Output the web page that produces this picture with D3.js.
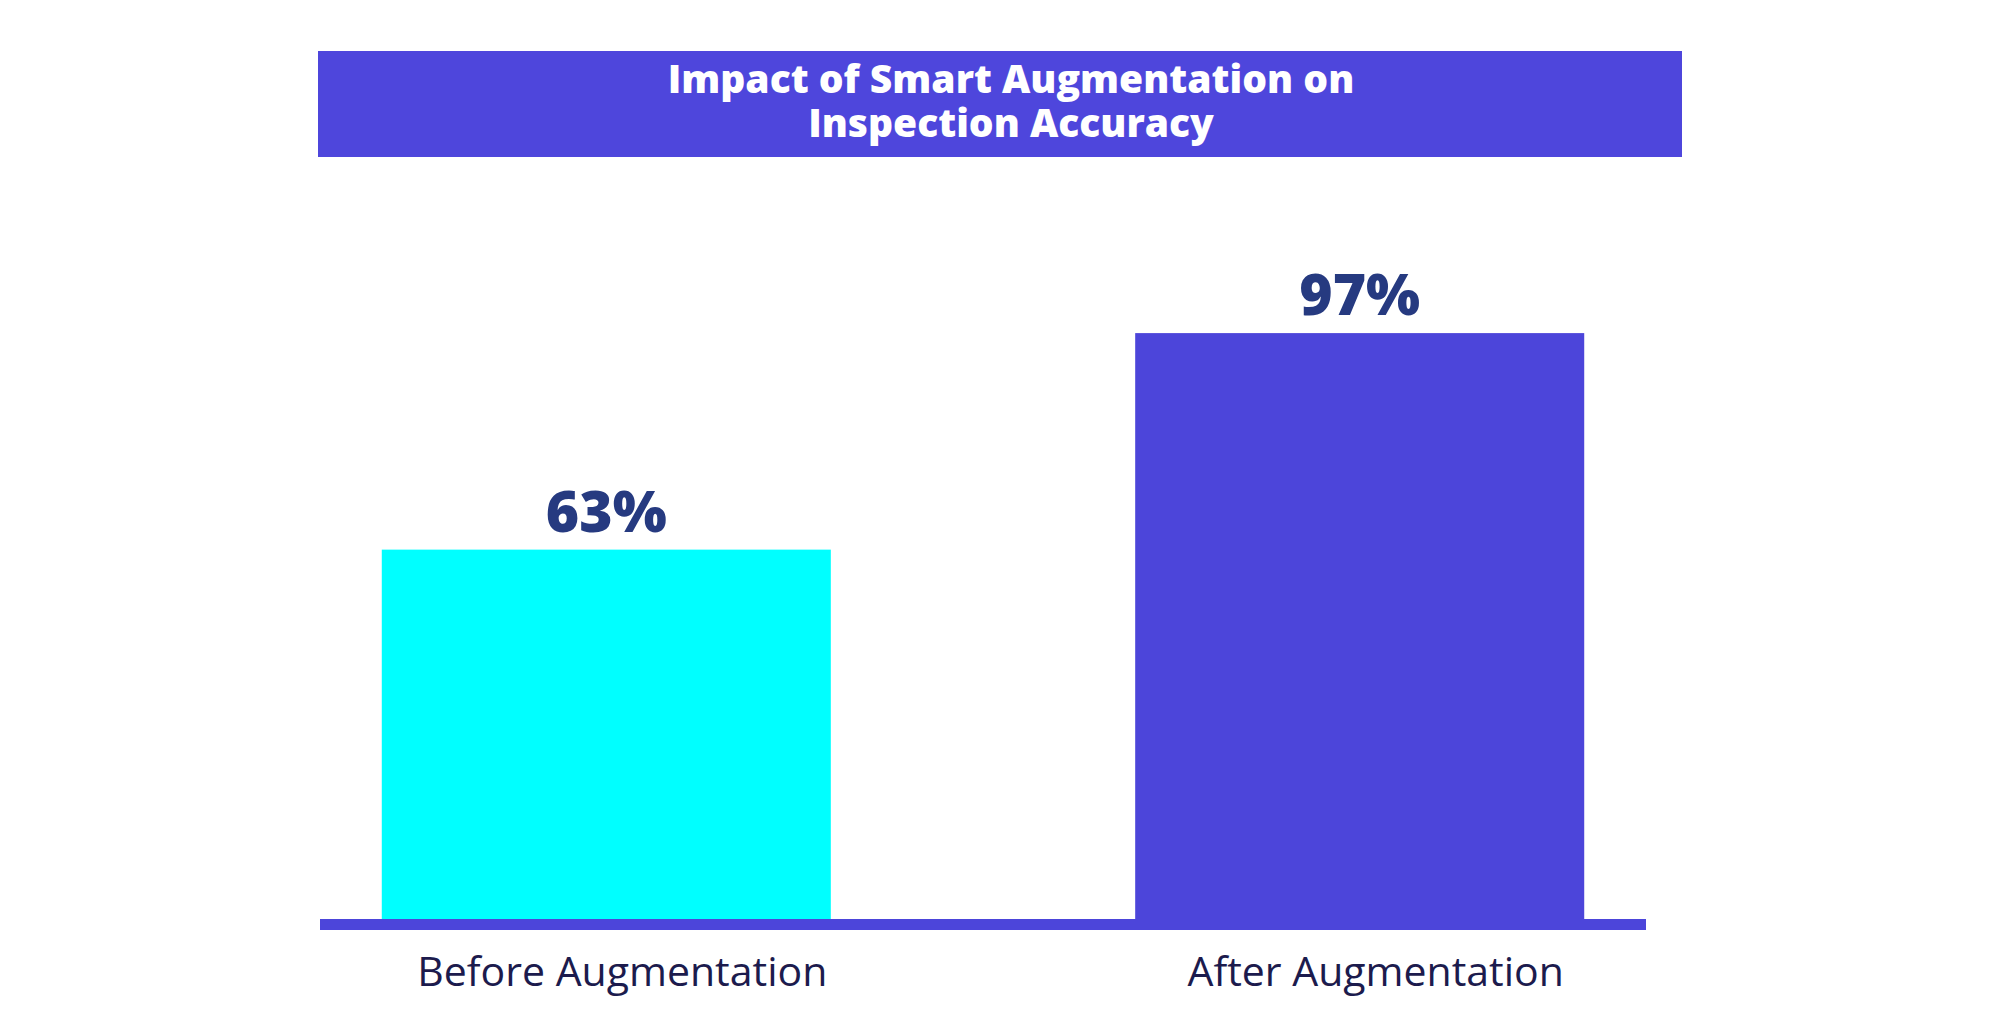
<!DOCTYPE html>
<html>
<head>
<meta charset="utf-8">
<script src="https://cdn.jsdelivr.net/npm/d3@7"></script>
<style>
  html, body { margin: 0; padding: 0; background: #ffffff; }
  svg { display: block; }
  text { font-variant-ligatures: none; font-feature-settings: "liga" 0; }
</style>
</head>
<body>
<svg id="chart" width="2000" height="1029"></svg>
<script>
const titleLines = ["Impact of Smart Augmentation on", "Inspection Accuracy"];
const categories = ["Before Augmentation", "After Augmentation"];
const values = [63, 97];
const valueLabels = ["63%", "97%"];
const barColors = ["#00ffff", "#4c45da"];

const svg = d3.select("#chart");
const W = 2000, H = 1029;
svg.append("rect").attr("width", W).attr("height", H).attr("fill", "#ffffff");

// Title banner
svg.append("rect")
  .attr("x", 318).attr("y", 51).attr("width", 1364).attr("height", 106)
  .attr("fill", "#4e46dc");
const title = svg.append("text")
  .attr("text-anchor", "middle")
  .attr("fill", "#ffffff")
  .style("font-family", "'Open Sans', Lato, sans-serif")
  .style("font-weight", 800)
  .style("font-size", "39px");
titleLines.forEach((t, i) => {
  title.append("tspan").attr("x", 1011).attr("y", 93 + i * 44).text(t);
});

// Scales
const x = d3.scaleBand()
  .domain(categories)
  .range([320, 1646])
  .paddingInner(0.404)
  .paddingOuter(0.082);

const y = d3.scaleLinear()
  .domain([5, 100])
  .range([919, 314]);

// Bars
svg.selectAll("rect.bar")
  .data(categories)
  .join("rect")
  .attr("class", "bar")
  .attr("x", d => x(d))
  .attr("width", x.bandwidth())
  .attr("y", (d, i) => y(values[i]))
  .attr("height", (d, i) => y(5) - y(values[i]))
  .attr("fill", (d, i) => barColors[i]);

// Baseline bar
const [r0, r1] = x.range();
svg.append("rect")
  .attr("x", r0).attr("y", y(5))
  .attr("width", r1 - r0).attr("height", 11)
  .attr("fill", "#4c45da");

// Value labels
svg.selectAll("text.val")
  .data(categories)
  .join("text")
  .attr("class", "val")
  .attr("x", d => x(d) + x.bandwidth() / 2)
  .attr("y", (d, i) => y(values[i]) - 18)
  .attr("text-anchor", "middle")
  .attr("fill", "#263a80")
  .style("font-family", "'Open Sans', Lato, sans-serif")
  .style("font-weight", 800)
  .style("font-size", "57px")
  .text((d, i) => valueLabels[i]);

// Category labels
svg.selectAll("text.cat")
  .data(categories)
  .join("text")
  .attr("class", "cat")
  .attr("x", d => x(d) + x.bandwidth() / 2 + 16)
  .attr("y", 986)
  .attr("text-anchor", "middle")
  .attr("fill", "#1c1b4d")
  .style("font-family", "'Open Sans', Lato, sans-serif")
  .style("font-weight", 400)
  .style("font-size", "41px")
  .text(d => d);
</script>
</body>
</html>
